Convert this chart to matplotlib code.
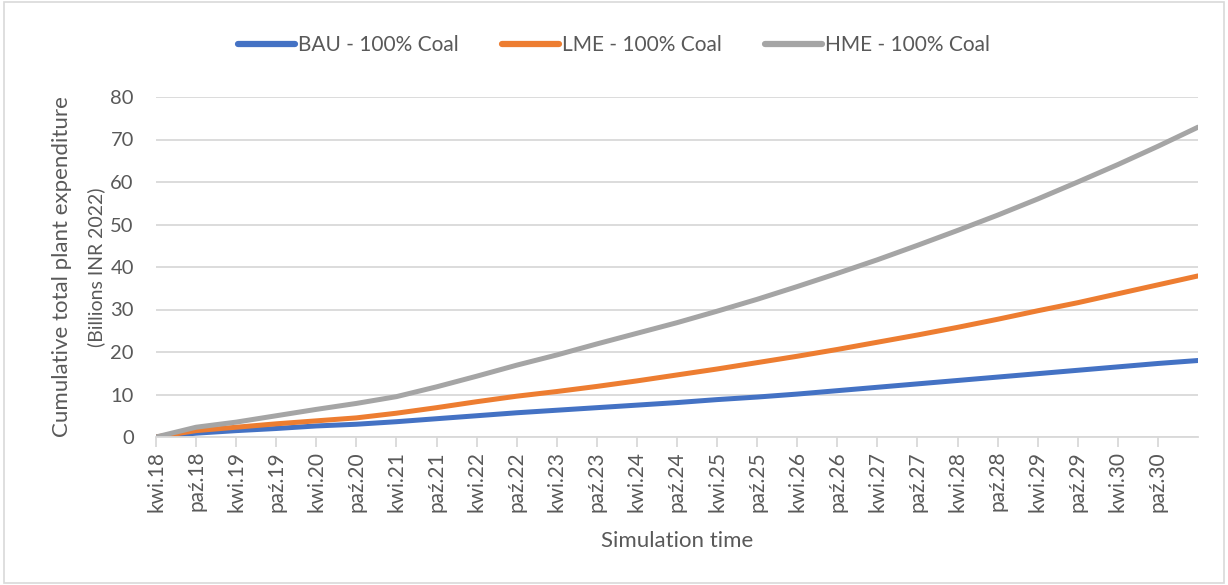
#!/usr/bin/env python3
import matplotlib as mpl
import matplotlib.pyplot as plt
import numpy as np

# Months since April 2018, sampled every 6 months (last point = end of run)
months = [0, 6, 12, 18, 24, 30, 36, 42, 48, 54, 60, 66, 72, 78, 84, 90, 96,
          102, 108, 114, 120, 126, 132, 138, 144, 150, 156]

bau = [0, 0.9, 1.5, 2.0, 2.6, 3.0, 3.6, 4.3, 5.0, 5.7, 6.3, 6.9, 7.5, 8.1,
       8.8, 9.4, 10.1, 10.9, 11.7, 12.5, 13.3, 14.1, 14.9, 15.7, 16.5, 17.3, 18.0]
lme = [0, 1.5, 2.3, 3.1, 3.8, 4.5, 5.6, 6.9, 8.3, 9.6, 10.7, 11.9, 13.2, 14.6,
       16.0, 17.5, 19.0, 20.6, 22.3, 24.0, 25.8, 27.7, 29.7, 31.6, 33.7, 35.8, 37.9]
hme = [0, 2.3, 3.5, 5.0, 6.5, 7.9, 9.5, 11.8, 14.3, 16.9, 19.3, 21.9, 24.4, 26.9,
       29.6, 32.4, 35.4, 38.5, 41.7, 45.1, 48.6, 52.2, 56.0, 60.0, 64.1, 68.4, 72.9]

series_names = ['BAU - 100% Coal', 'LME - 100% Coal', 'HME - 100% Coal']

# Tick labels every 6 months (Polish month abbreviations)
tick_months = list(range(0, 151, 6))
tick_labels = []
for m in tick_months:
    year = 18 + (3 + m) // 12
    tick_labels.append(('kwi.' if m % 12 == 0 else 'paź.') + str(year))

mpl.rcParams['font.family'] = ['Lato', 'DejaVu Sans']
text_col = '#595959'
grid_col = '#d9d9d9'

fig = plt.figure(figsize=(12.28, 5.85), dpi=100)
ax = fig.add_axes([156 / 1228, 1 - 437 / 585, (1198 - 156) / 1228, 340 / 585])

colors = ['#4472C4', '#ED7D31', '#A5A5A5']
for vals, name, c in zip([bau, lme, hme], series_names, colors):
    ax.plot(months, vals, color=c, lw=3.6, label=name,
            solid_capstyle='round', solid_joinstyle='round')

ax.set_xlim(0, 156)
ax.set_ylim(0, 80)
ax.set_yticks(np.arange(0, 81, 10))
ax.set_xticks(tick_months)
ax.set_xticklabels(tick_labels, rotation=90)
ax.grid(axis='y', color=grid_col, lw=1.3)
ax.set_axisbelow(True)

for s in ['top', 'right', 'left']:
    ax.spines[s].set_visible(False)
ax.spines['bottom'].set_color(grid_col)
ax.spines['bottom'].set_linewidth(1.3)
ax.tick_params(axis='x', colors=text_col, labelsize=15, length=7,
               width=1.3, color=grid_col, pad=3)
ax.tick_params(axis='y', colors=text_col, labelsize=14.5, length=0, pad=16)

# Two-line axis title, second line a little smaller
fig.text(62 / 1228, 1 - 267 / 585, 'Cumulative total plant expenditure',
         rotation=90, ha='center', va='center', fontsize=16, color=text_col)
fig.text(96 / 1228, 1 - 267 / 585, '(Billions INR 2022)',
         rotation=90, ha='center', va='center', fontsize=14, color=text_col)
ax.set_xlabel('Simulation time', fontsize=16, color=text_col, labelpad=14)

fig.legend(loc='center', bbox_to_anchor=(0.5, 1 - 45 / 585), ncol=3,
           frameon=False, fontsize=15, handlelength=2.7, handletextpad=0.15,
           columnspacing=2.1, labelcolor=text_col)
for line in fig.legends[0].get_lines():
    line.set_linewidth(4.5)

# Chart area border
fig.patches.append(plt.Rectangle((0.003, 0.004), 0.994, 0.992,
                                 transform=fig.transFigure, fill=False,
                                 edgecolor=grid_col, lw=1.2))

fig.savefig('out.png', dpi=100)
